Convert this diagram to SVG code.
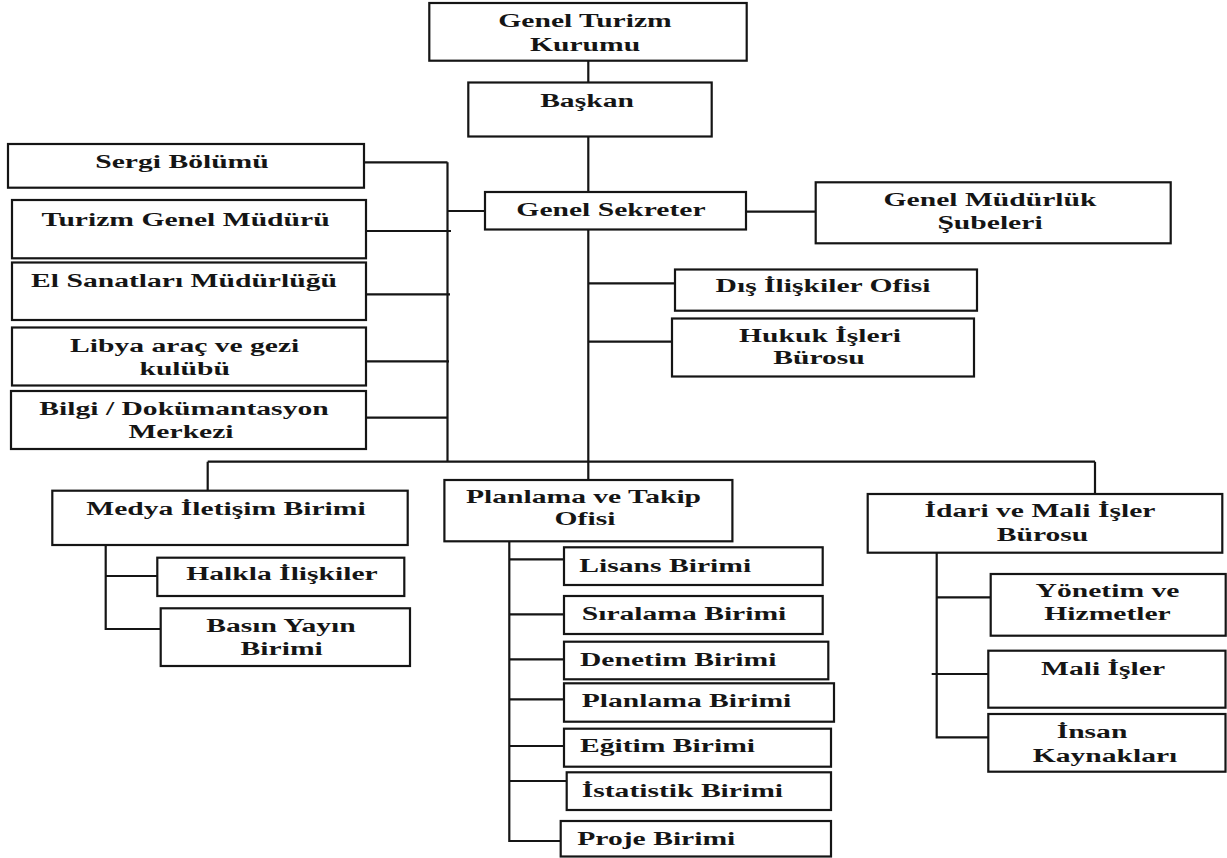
<svg xmlns="http://www.w3.org/2000/svg" width="1227" height="858" viewBox="0 0 1227 858">
<style>
.b{fill:#fff;stroke:#151515;stroke-width:2.2}
.c{fill:none;stroke:#151515;stroke-width:2.2}
.t{font-family:"Liberation Serif","Times New Roman",serif;font-weight:bold;font-size:18.5px;fill:#151515;text-anchor:middle}
.l{text-anchor:start}
</style>
<rect width="1227" height="858" fill="#fff"/>
<g id="connectors">
<path class="c" d="M588.3 60.7V82.5M588.3 136.5V192M588.3 229.5V480M746 211.7H815.7M588.3 283.3H675M588.3 341.7H672"/>
<path class="c" d="M485 211H447.5M447.5 162.3V462M364 162.3H447.5M366 231H451M366 294.3H450M366 361.3H449M366 417.7H447.5"/>
<path class="c" d="M207.7 461.7H1095M207.7 461.7V490.7M1095 461.7V494"/>
<path class="c" d="M105.7 545V629H160.7M105.7 576H157.3"/>
<path class="c" d="M509.3 541.3V841H560.7M509.3 559.3H564M509.3 614.3H564M509.3 659.3H564M509.3 699.3H564M509.3 746H564M509.3 781H566.7"/>
<path class="c" d="M936.7 552.7V737.3H988.3M936.7 597.3H990.7M931.7 674H988.3"/>
</g>
<g id="genel-turizm-kurumu"><rect class="b" x="429.3" y="3" width="317.4" height="57.7"/><text class="t" transform="translate(585,27.3) scale(1.6,1)">Genel Turizm</text><text class="t" transform="translate(585,50.7) scale(1.6,1)">Kurumu</text></g>
<g id="baskan"><rect class="b" x="468.3" y="82.5" width="243.4" height="54"/><text class="t" transform="translate(587,107) scale(1.6,1)">Başkan</text></g>
<g id="genel-sekreter"><rect class="b" x="485" y="192" width="261" height="37.5"/><text class="t" transform="translate(611,216) scale(1.6,1)">Genel Sekreter</text></g>
<g id="genel-mudurluk-subeleri"><rect class="b" x="815.7" y="182.3" width="355" height="61"/><text class="t" transform="translate(990,206) scale(1.6,1)">Genel Müdürlük</text><text class="t" transform="translate(990,229) scale(1.6,1)">Şubeleri</text></g>
<g id="dis-iliskiler"><rect class="b" x="675" y="269.5" width="302" height="41.2"/><text class="t" transform="translate(823,292) scale(1.6,1)">Dış İlişkiler Ofisi</text></g>
<g id="hukuk-isleri"><rect class="b" x="672" y="318.5" width="302" height="58"/><text class="t" transform="translate(820,341.5) scale(1.6,1)">Hukuk İşleri</text><text class="t" transform="translate(819,363.5) scale(1.6,1)">Bürosu</text></g>
<g id="sergi-bolumu"><rect class="b" x="8" y="144" width="356" height="43.7"/><text class="t" transform="translate(182,168.3) scale(1.6,1)">Sergi Bölümü</text></g>
<g id="turizm-genel-muduru"><rect class="b" x="12" y="200" width="354" height="58.3"/><text class="t" transform="translate(185.5,225.7) scale(1.6,1)">Turizm Genel Müdürü</text></g>
<g id="el-sanatlari"><rect class="b" x="12" y="262.5" width="354" height="57.5"/><text class="t" transform="translate(184,286.7) scale(1.6,1)">El Sanatları Müdürlüğü</text></g>
<g id="libya-arac"><rect class="b" x="12" y="327.5" width="354" height="58"/><text class="t" transform="translate(184.7,351.7) scale(1.6,1)">Libya araç ve gezi</text><text class="t" transform="translate(184.7,375) scale(1.6,1)">kulübü</text></g>
<g id="bilgi-dokumantasyon"><rect class="b" x="11" y="391" width="355" height="58"/><text class="t" transform="translate(184,415) scale(1.6,1)">Bilgi / Dokümantasyon</text><text class="t" transform="translate(181,438.3) scale(1.6,1)">Merkezi</text></g>
<g id="medya-iletisim"><rect class="b" x="52.3" y="490.7" width="355.4" height="54.3"/><text class="t" transform="translate(226,515) scale(1.6,1)">Medya İletişim Birimi</text></g>
<g id="halkla-iliskiler"><rect class="b" x="157.3" y="557.7" width="247" height="38.3"/><text class="t" transform="translate(282,580) scale(1.6,1)">Halkla İlişkiler</text></g>
<g id="basin-yayin"><rect class="b" x="160.7" y="608.3" width="249.3" height="57.7"/><text class="t" transform="translate(281,631.7) scale(1.6,1)">Basın Yayın</text><text class="t" transform="translate(281.7,655) scale(1.6,1)">Birimi</text></g>
<g id="planlama-takip"><rect class="b" x="444.4" y="480" width="288" height="61.3"/><text class="t" transform="translate(583.5,502.7) scale(1.6,1)">Planlama ve Takip</text><text class="t" transform="translate(585,525) scale(1.6,1)">Ofisi</text></g>
<g id="lisans"><rect class="b" x="564" y="547.3" width="258.7" height="37.7"/><text class="t l" transform="translate(579.3,571.7) scale(1.6,1)">Lisans Birimi</text></g>
<g id="siralama"><rect class="b" x="564" y="596" width="258.7" height="38"/><text class="t l" transform="translate(581.7,620) scale(1.6,1)">Sıralama Birimi</text></g>
<g id="denetim"><rect class="b" x="564" y="641.7" width="264.3" height="37.6"/><text class="t l" transform="translate(580,665.7) scale(1.6,1)">Denetim Birimi</text></g>
<g id="planlama-birimi"><rect class="b" x="564" y="683.3" width="270" height="38.4"/><text class="t l" transform="translate(581.7,707.3) scale(1.6,1)">Planlama Birimi</text></g>
<g id="egitim"><rect class="b" x="564" y="728.7" width="267" height="38"/><text class="t l" transform="translate(580,751.7) scale(1.6,1)">Eğitim Birimi</text></g>
<g id="istatistik"><rect class="b" x="566.7" y="772.3" width="264.3" height="37.7"/><text class="t l" transform="translate(581.7,796.7) scale(1.6,1)">İstatistik Birimi</text></g>
<g id="proje"><rect class="b" x="560.7" y="821" width="270.3" height="35.5"/><text class="t l" transform="translate(577.3,845) scale(1.6,1)">Proje Birimi</text></g>
<g id="idari-mali"><rect class="b" x="867.7" y="494" width="354.6" height="58.7"/><text class="t" transform="translate(1040,516.7) scale(1.6,1)">İdari ve Mali İşler</text><text class="t" transform="translate(1042.5,540.7) scale(1.6,1)">Bürosu</text></g>
<g id="yonetim-hizmetler"><rect class="b" x="990.7" y="574" width="235" height="61.7"/><text class="t" transform="translate(1107.5,596.7) scale(1.6,1)">Yönetim ve</text><text class="t" transform="translate(1107.5,620) scale(1.6,1)">Hizmetler</text></g>
<g id="mali-isler"><rect class="b" x="988.3" y="650.7" width="237.2" height="57"/><text class="t" transform="translate(1103,675) scale(1.6,1)">Mali İşler</text></g>
<g id="insan-kaynaklari"><rect class="b" x="988.3" y="714" width="237.2" height="57.7"/><text class="t" transform="translate(1092,738.3) scale(1.6,1)">İnsan</text><text class="t" transform="translate(1105,761.7) scale(1.6,1)">Kaynakları</text></g>
</svg>
